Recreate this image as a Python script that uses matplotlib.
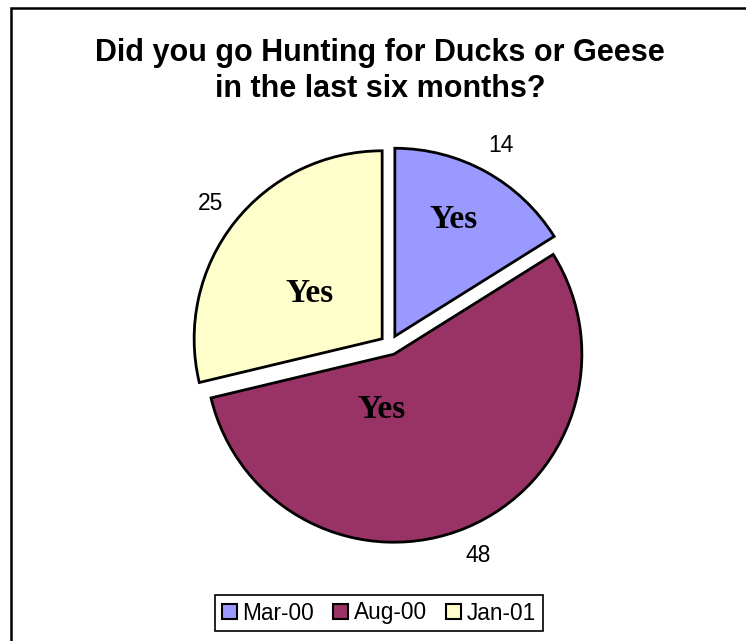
import matplotlib.pyplot as plt
from matplotlib.patches import Patch, Rectangle

# survey answers per period
periods = ["Mar-00", "Aug-00", "Jan-01"]
counts = [14, 48, 25]
answer = "Yes"
colors = ["#9999FF", "#993366", "#FFFFCC"]

W, H = 746, 641
fig = plt.figure(figsize=(W / 100, H / 100), dpi=100)
ax = fig.add_axes([0, 0, 1, 1])

# pie in pixel coordinates (y measured from the bottom); explode is in pixels too
cx, cy, r = 390, H - 345, 188
wedges, texts = ax.pie(counts, colors=colors, startangle=90, counterclock=False,
                       explode=[10] * 3, center=(cx, cy), radius=r,
                       labels=[str(c) for c in counts], labeldistance=1.16,
                       wedgeprops=dict(edgecolor="black", linewidth=2),
                       textprops=dict(family="Liberation Sans", fontsize=16.5))
for t in texts:
    t.set_ha("center")
    t.set_va("center")

ax.set_xlim(0, W)
ax.set_ylim(0, H)
ax.set_aspect("auto")
ax.axis("off")

# "Yes" category labels inside each slice
yes_pos = [(453, 220), (381, 410), (309, 293)]
for (x, y) in yes_pos:
    ax.text(x, H - y, answer, family="Liberation Serif", fontweight="bold",
            fontsize=24, ha="center", va="center")

fig.text(380 / W, 1 - 71 / H,
         "Did you go Hunting for Ducks or Geese\nin the last six months?",
         ha="center", va="center", family="Liberation Sans", fontweight="bold",
         fontsize=22, linespacing=1.27)

handles = [Patch(facecolor=c, edgecolor="black", linewidth=1.5) for c in colors]
leg = fig.legend(handles, periods, loc="center", bbox_to_anchor=(379 / W, 1 - 613 / H),
                 ncol=3, frameon=True, fancybox=False, handlelength=0.65,
                 handleheight=0.65, handletextpad=0.25, columnspacing=0.85,
                 borderpad=0.3, prop=dict(family="Liberation Sans", size=16.3))
leg.get_frame().set_edgecolor("black")
leg.get_frame().set_linewidth(1.2)
leg.get_frame().set_alpha(1)

# outer chart border, open to the right and bottom edges
fig.patches.append(Rectangle((11 / W, -0.1), 1.2, 1 - 8 / H + 0.1, transform=fig.transFigure,
                             fill=False, edgecolor="black", linewidth=1.8))

fig.savefig("out.png", dpi=100)
